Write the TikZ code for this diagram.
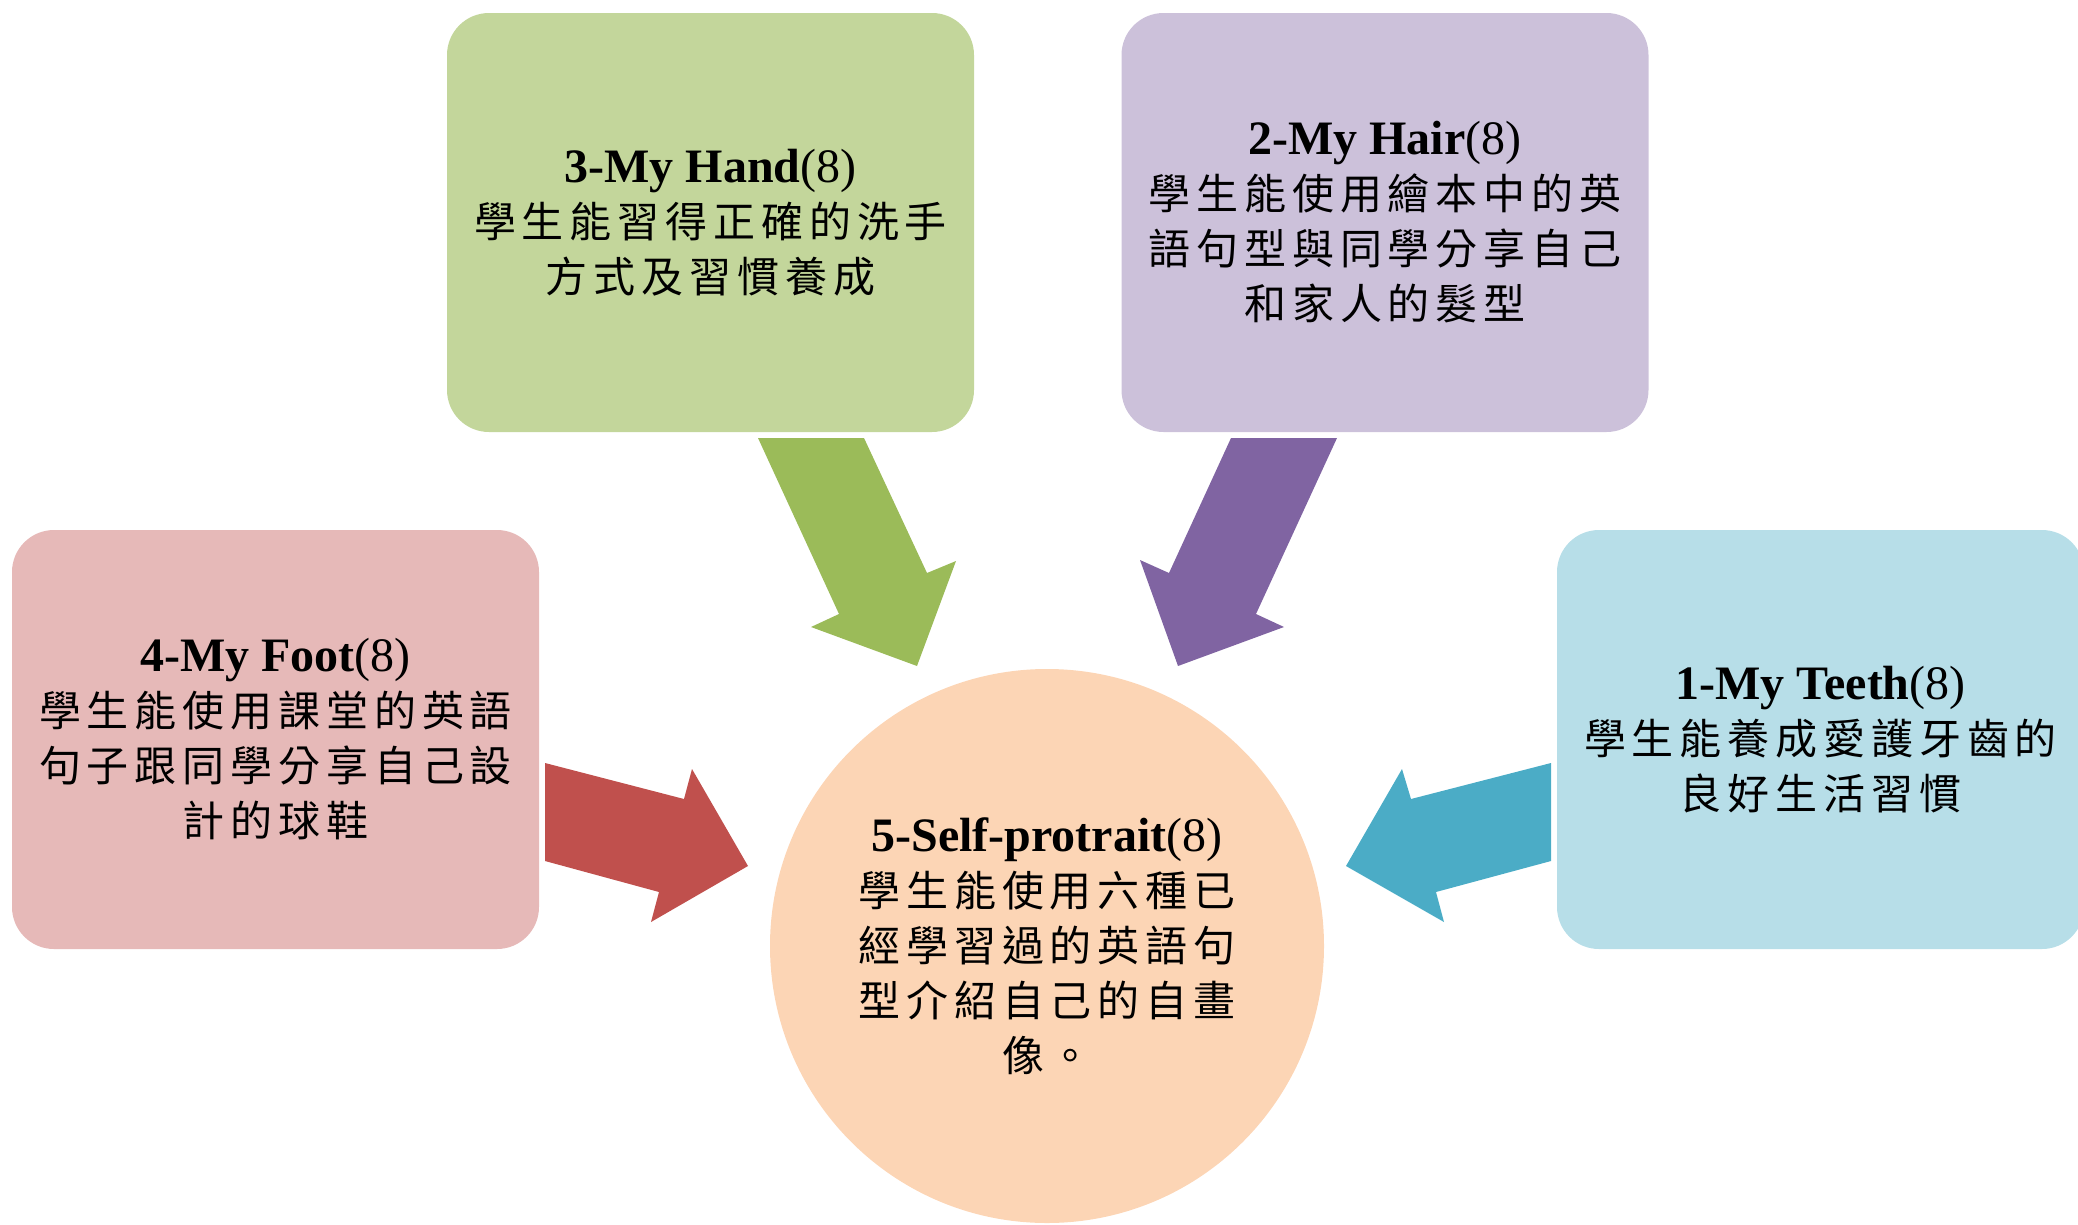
\documentclass[tikz,border=0pt]{standalone}
\usepackage{fontspec}
\setmainfont{Liberation Serif}
\newfontfamily\cjk[LetterSpace=14]{Noto Sans CJK TC}
\definecolor{greenbox}{HTML}{C3D69B}
\definecolor{greenarr}{HTML}{9BBB59}
\definecolor{purplebox}{HTML}{CCC1DA}
\definecolor{purplearr}{HTML}{8064A2}
\definecolor{pinkbox}{HTML}{E6B9B8}
\definecolor{redarr}{HTML}{C0504D}
\definecolor{bluebox}{HTML}{B7DEE8}
\definecolor{bluearr}{HTML}{4BACC6}
\definecolor{peach}{HTML}{FCD5B5}
\newcommand\boxtitle[2]{{\fontsize{48}{55}\selectfont\textbf{#1}(#2)}}
\tikzset{
  topicbox/.style={rounded corners=42pt, minimum width=527pt, minimum height=419pt,
    align=center, inner sep=0pt, text=black, font=\fontsize{42}{55}\selectfont},
  centrecircle/.style={circle, minimum size=554pt, inner sep=0pt, fill=peach,
    align=center, text=black, font=\fontsize{42}{55}\selectfont},
  blockarrow/.style={draw=none}
}
\begin{document}
\begin{tikzpicture}[x=1pt,y=-1pt]
\useasboundingbox (0,0) rectangle (2078,1224);
\node[topicbox, fill=greenbox] (hand) at (710.5,222.5)
  {\boxtitle{3-My Hand}{8}\\ {\cjk 學生能習得正確的洗手}\\ {\cjk 方式及習慣養成}};
\node[topicbox, fill=purplebox] (hair) at (1385,222.5)
  {\boxtitle{2-My Hair}{8}\\ {\cjk 學生能使用繪本中的英}\\ {\cjk 語句型與同學分享自己}\\ {\cjk 和家人的髮型}};
\node[topicbox, fill=pinkbox] (foot) at (275.5,739.5)
  {\boxtitle{4-My Foot}{8}\\ {\cjk 學生能使用課堂的英語}\\ {\cjk 句子跟同學分享自己設}\\ {\cjk 計的球鞋}};
\node[topicbox, fill=bluebox] (teeth) at (1820.5,739.5)
  {\boxtitle{1-My Teeth}{8}\\ {\cjk 學生能養成愛護牙齒的}\\ {\cjk 良好生活習慣}};
\node[centrecircle] (self) at (1047,946)
  {\boxtitle{5-Self-protrait}{8}\\ {\cjk 學生能使用六種已}\\ {\cjk 經學習過的英語句}\\ {\cjk 型介紹自己的自畫}\\ {\cjk 像。}};
% block arrows
\fill[greenarr, blockarrow] (758,438) -- (864,438) -- (927,573) -- (956,561) -- (917,666) -- (811,627) -- (839,614) -- cycle;
\fill[purplearr, blockarrow] (1231,438) -- (1337,438) -- (1256,614) -- (1284,627) -- (1178,666) -- (1140,560) -- (1169,573) -- cycle;
\fill[redarr, blockarrow] (545,763) -- (684,799) -- (692,769) -- (748,866) -- (651,922) -- (659,892) -- (545,861) -- cycle;
\fill[bluearr, blockarrow] (1551,763) -- (1411,799) -- (1402,769) -- (1346,866) -- (1444,922) -- (1436,892) -- (1551,861) -- cycle;
\end{tikzpicture}
\end{document}
